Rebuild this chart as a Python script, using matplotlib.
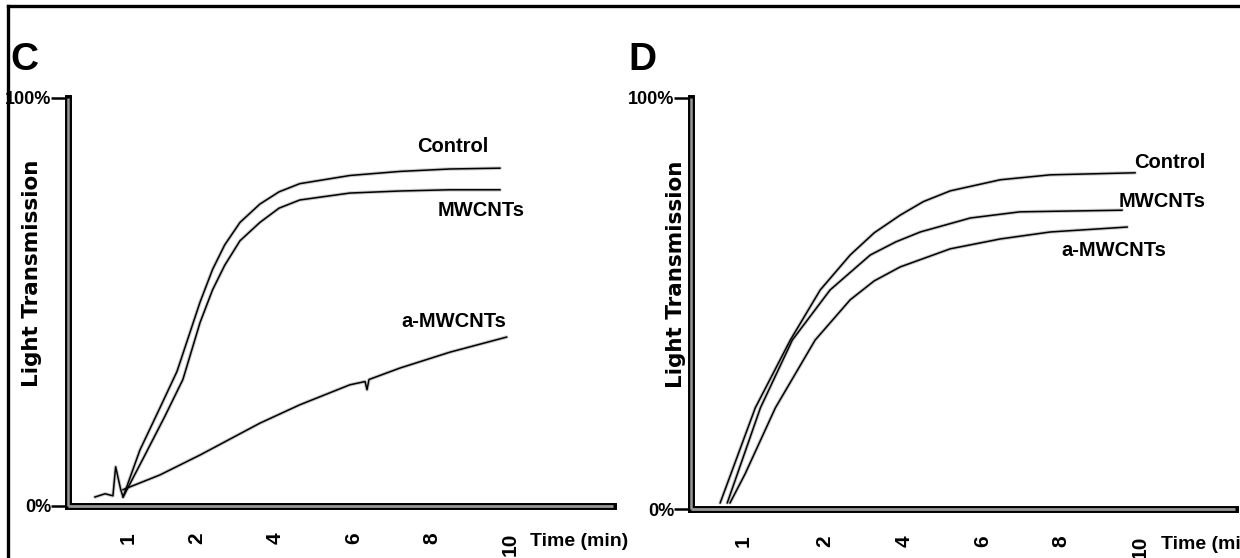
"""
Platelet aggregation traces (panels C and D): light transmission vs time.
"""
import matplotlib
matplotlib.use('Agg')
import matplotlib.pyplot as plt
from matplotlib.lines import Line2D

plt.rcParams['font.family'] = ['Liberation Sans', 'DejaVu Sans']
plt.rcParams['font.weight'] = 'bold'

# ─────────────────────────────────────────────────────────────
# data (time in min, light transmission in %)
# ─────────────────────────────────────────────────────────────
x_ticks_c = [0.24, 2, 4, 6, 8, 10]
x_ticks_d = [-0.08, 2, 4, 6, 8, 10]
x_ticklabels = ['1', '2', '4', '6', '8', '10']

c_ctrl_t = [-0.61, -0.35, -0.15, -0.08, 0.05, 0.11, 0.54, 1.05, 1.49, 2.08, 2.4, 2.71, 3.1, 3.61, 4.1, 4.63, 5.91, 7.19, 8.47, 9.75]
c_ctrl_y = [2.2, 3.0, 2.5, 9.6, 4.0, 2.2, 13.7, 24.0, 33.0, 50.0, 58.0, 64.0, 69.5, 74.0, 77.0, 79.0, 81.0, 82.0, 82.6, 82.8]

c_mw_t = [0.11, 0.67, 1.18, 1.64, 2.08, 2.4, 2.71, 3.1, 3.61, 4.1, 4.63, 5.91, 7.19, 8.47, 9.75]
c_mw_y = [2.2, 12.5, 22.0, 31.0, 45.0, 53.0, 59.0, 65.0, 69.5, 73.0, 75.0, 76.7, 77.2, 77.5, 77.5]

c_amw_t = [0.11, 0.29, 1.05, 2.08, 3.61, 4.63, 5.91, 6.3, 6.35, 6.4, 7.19, 8.47, 9.92]
c_amw_y = [4.0, 4.7, 7.6, 12.5, 20.3, 24.8, 29.7, 30.5, 28.5, 31.0, 33.8, 37.7, 41.4]

d_ctrl_t = [-0.66, 0.23, 1.12, 1.88, 2.64, 3.25, 3.91, 4.5, 5.18, 6.45, 7.72, 9.87]
d_ctrl_y = [1.5, 24.6, 41.1, 53.3, 61.8, 67.2, 71.5, 74.8, 77.4, 80.1, 81.3, 81.8]

d_mw_t = [-0.48, 0.36, 1.17, 2.13, 3.15, 3.8, 4.42, 5.69, 6.95, 9.54]
d_mw_y = [1.5, 24.6, 41.1, 53.3, 61.8, 65.0, 67.4, 70.8, 72.3, 72.7]

d_amw_t = [-0.41, -0.03, 0.74, 1.75, 2.64, 3.25, 3.91, 5.18, 6.45, 7.72, 9.67]
d_amw_y = [1.5, 8.5, 24.6, 41.1, 50.9, 55.5, 58.9, 63.3, 65.7, 67.4, 68.6]

series_labels = ['Control', 'MWCNTs', 'a-MWCNTs']
# label anchor (time, %) for each trace
c_label_pos = [(8.55, 88.2), (9.26, 72.5), (8.58, 45.1)]
d_label_pos = [(10.74, 84.4), (10.56, 74.9), (9.34, 62.8)]


def draw_trace(ax, t, y):
    ax.plot(t, y, color='0.55', lw=2.6, alpha=0.45, solid_capstyle='round', zorder=2)
    ax.plot(t, y, color='black', lw=1.1, zorder=3)


def style_axes(ax, xlim, ticks, ylabel_x):
    ax.set_xlim(*xlim)
    ax.set_ylim(0, 100)
    for s in ('top', 'right'):
        ax.spines[s].set_visible(False)
    for s in ('left', 'bottom'):
        ax.spines[s].set_linewidth(5)
        ax.spines[s].set_color('black')
    # inner grey stripe to mimic the double-line axes
    ax.plot([0, 1], [0, 0], transform=ax.transAxes, color='0.6', lw=2.0,
            clip_on=False, zorder=6, solid_capstyle='butt')
    ax.plot([0, 0], [0, 1], transform=ax.transAxes, color='0.6', lw=1.8,
            clip_on=False, zorder=6, solid_capstyle='butt')

    ax.set_yticks([0, 100])
    ax.set_yticklabels(['0%', '100%'])
    ax.tick_params(axis='y', length=12, width=1.8, pad=0, labelsize=13)
    ax.set_xticks(ticks)
    ax.set_xticklabels(x_ticklabels, rotation=90)
    ax.tick_params(axis='x', length=0, pad=19, labelsize=15)
    ax.set_ylabel('Light Transmission', fontsize=15.5, fontweight='bold',
                  family=['DejaVu Sans'])
    ax.yaxis.set_label_coords(ylabel_x, 0.57)
    ax.text(10.52, -0.086, 'Time (min)', transform=ax.get_xaxis_transform(),
            ha='left', va='center', fontsize=14, clip_on=False)


fig = plt.figure(figsize=(12.4, 5.58), dpi=100)
ax_c = fig.add_axes([0.0548, 0.0932, 0.4395, 0.7312])
ax_d = fig.add_axes([0.5573, 0.0878, 0.4387, 0.7366])

for t, y in [(c_ctrl_t, c_ctrl_y), (c_mw_t, c_mw_y), (c_amw_t, c_amw_y)]:
    draw_trace(ax_c, t, y)
for t, y in [(d_ctrl_t, d_ctrl_y), (d_mw_t, d_mw_y), (d_amw_t, d_amw_y)]:
    draw_trace(ax_d, t, y)

style_axes(ax_c, (-1.30, 12.64), x_ticks_c, -0.048)
style_axes(ax_d, (-1.40, 12.41), x_ticks_d, -0.010)

for ax, positions in [(ax_c, c_label_pos), (ax_d, d_label_pos)]:
    for name, (tx, ty) in zip(series_labels, positions):
        ax.text(tx, ty, name, ha='center', va='center', fontsize=14.5, clip_on=False)

fig.text(0.008, 0.8746, 'C', fontsize=28, ha='left', va='baseline')
fig.text(0.5065, 0.8746, 'D', fontsize=28, ha='left', va='baseline')

# outer frame (only top and left edges are in view)
fig.add_artist(Line2D([0.0065, 0.0065], [0.0, 0.989], color='black', lw=2.4))
fig.add_artist(Line2D([0.0065, 1.0], [0.989, 0.989], color='black', lw=2.4))

fig.savefig('out.png', dpi=100)
